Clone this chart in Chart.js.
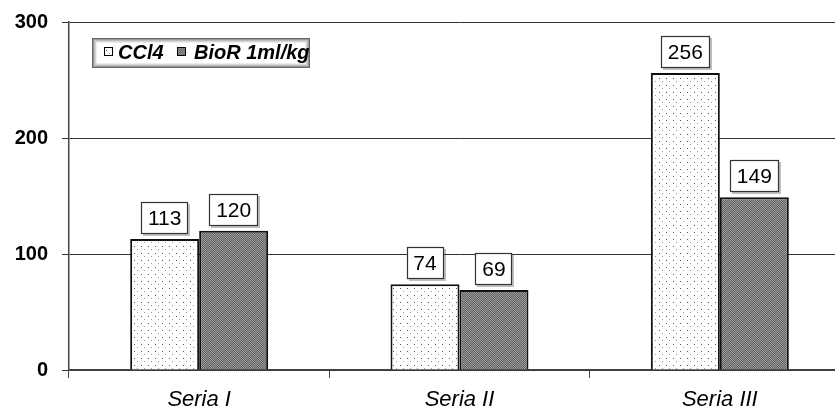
<!DOCTYPE html>
<html>
<head>
<meta charset="utf-8">
<script src="https://cdn.jsdelivr.net/npm/chart.js@4"></script>
<style>
  html, body { margin: 0; padding: 0; background: #fff; overflow: hidden; }
  #wrap { width: 850px; height: 412px; }
</style>
</head>
<body>
<div id="wrap"><canvas id="chart" width="850" height="412"></canvas></div>
<script>
const categories = ["Seria I", "Seria II", "Seria III"];
const seriesNames = ["CCl4", "BioR 1ml/kg"];
const ccl4 = [113, 74, 256];
const bior = [120, 69, 149];
const yTicks = [0, 100, 200, 300];

// fill patterns like the old office chart
const makePattern = (size, paint) => {
  const c = document.createElement("canvas");
  c.width = size;
  c.height = size;
  const g = c.getContext("2d");
  paint(g);
  return g.createPattern(c, "repeat");
};
const dotted = makePattern(7, (g) => {
  g.fillStyle = "#fff";
  g.fillRect(0, 0, 7, 7);
  g.fillStyle = "#555";
  g.fillRect(1, 1, 1, 1);
  g.fillStyle = "#999";
  g.fillRect(4, 4, 1, 1);
});
const checker = makePattern(8, (g) => {
  for (let x = 0; x < 8; x++) {
    for (let y = 0; y < 8; y++) {
      const big = ((x >> 2) + (y >> 2)) & 1;
      const small = (x + y) & 1;
      g.fillStyle = big ? (small ? "#5a5a5a" : "#a2a2a2") : (small ? "#6e6e6e" : "#909090");
      g.fillRect(x, y, 1, 1);
    }
  }
});

const valueBoxes = {
  id: "valueBoxes",
  afterDatasetsDraw(chart) {
    const ctx = chart.ctx;
    ctx.save();
    ctx.font = "21px 'Liberation Sans', Arial, sans-serif";
    ctx.textAlign = "center";
    ctx.textBaseline = "middle";
    chart.data.datasets.forEach((ds, i) => {
      chart.getDatasetMeta(i).data.forEach((bar, j) => {
        const txt = String(ds.data[j]);
        const w = Math.round(ctx.measureText(txt).width + 14);
        const h = 32;
        const x = Math.round(bar.x - w / 2);
        const y = Math.round(bar.y - 5 - h);
        ctx.fillStyle = "rgba(0,0,0,0.25)";
        ctx.fillRect(x + 2, y + 2, w, h);
        ctx.fillStyle = "#fff";
        ctx.fillRect(x, y, w, h);
        ctx.strokeStyle = "#333";
        ctx.lineWidth = 1.2;
        ctx.strokeRect(x + 0.5, y + 0.5, w - 1, h - 1);
        ctx.fillStyle = "#000";
        ctx.fillText(txt, bar.x, y + h / 2 + 1);
      });
    });
    ctx.restore();
  },
};

const boxLegend = {
  id: "boxLegend",
  afterDraw(chart) {
    const ctx = chart.ctx;
    const x = 92, y = 38, w = 218, h = 30;
    ctx.save();
    const shades = ["#666", "#999", "#bbb", "#d6d6d6", "#ececec"];
    shades.forEach((c, k) => {
      ctx.fillStyle = c;
      ctx.fillRect(x + k, y + k, w - 2 * k, h - 2 * k);
    });
    ctx.fillStyle = "#fff";
    ctx.fillRect(x + 5, y + 5, w - 10, h - 10);
    ctx.font = "italic bold 20px 'Liberation Sans', Arial, sans-serif";
    ctx.textBaseline = "alphabetic";
    const items = [
      { ix: 104, tx: 118, fill: dotted },
      { ix: 177, tx: 194, fill: checker },
    ];
    items.forEach((it, k) => {
      ctx.fillStyle = it.fill;
      ctx.fillRect(it.ix, 47, 9, 9);
      ctx.strokeStyle = "#000";
      ctx.lineWidth = 1;
      ctx.strokeRect(it.ix + 0.5, 47.5, 8, 8);
      ctx.fillStyle = "#000";
      ctx.fillText(seriesNames[k], it.tx, 59);
    });
    ctx.restore();
  },
};

new Chart(document.getElementById("chart"), {
  type: "bar",
  data: {
    labels: categories,
    datasets: [
      {
        label: seriesNames[0],
        data: ccl4,
        backgroundColor: dotted,
        borderColor: "#111",
        borderWidth: 2,
      },
      {
        label: seriesNames[1],
        data: bior,
        backgroundColor: checker,
        borderColor: "#111",
        borderWidth: 2,
      },
    ],
  },
  options: {
    responsive: false,
    animation: false,
    events: [],
    layout: { padding: { top: 22, right: 0, bottom: 0, left: 0 } },
    plugins: {
      legend: { display: false },
      tooltip: { enabled: false },
    },
    datasets: {
      bar: { categoryPercentage: 0.53, barPercentage: 1 },
    },
    scales: {
      x: {
        afterFit: (s) => { s.height = 42; },
        grid: {
          offset: true,
          drawOnChartArea: false,
          drawTicks: true,
          tickLength: 8,
          color: "#444",
        },
        border: { color: "#444", width: 1.5 },
        ticks: {
          color: "#000",
          padding: 9,
          font: { family: "'Liberation Sans', Arial, sans-serif", size: 22, style: "italic" },
        },
      },
      y: {
        min: 0,
        max: 300,
        afterFit: (s) => {
          s.width = 69;
          s.paddingTop = 0;
          s.paddingBottom = 0;
        },
        afterBuildTicks: (s) => { s.ticks = yTicks.map((v) => ({ value: v })); },
        grid: {
          color: "#333",
          lineWidth: 1,
          tickLength: 7,
        },
        border: { color: "#444", width: 1.5 },
        ticks: {
          color: "#000",
          padding: 14,
          font: { family: "'Liberation Sans', Arial, sans-serif", size: 20, weight: "bold" },
        },
      },
    },
  },
  plugins: [valueBoxes, boxLegend],
});
</script>
</body>
</html>
